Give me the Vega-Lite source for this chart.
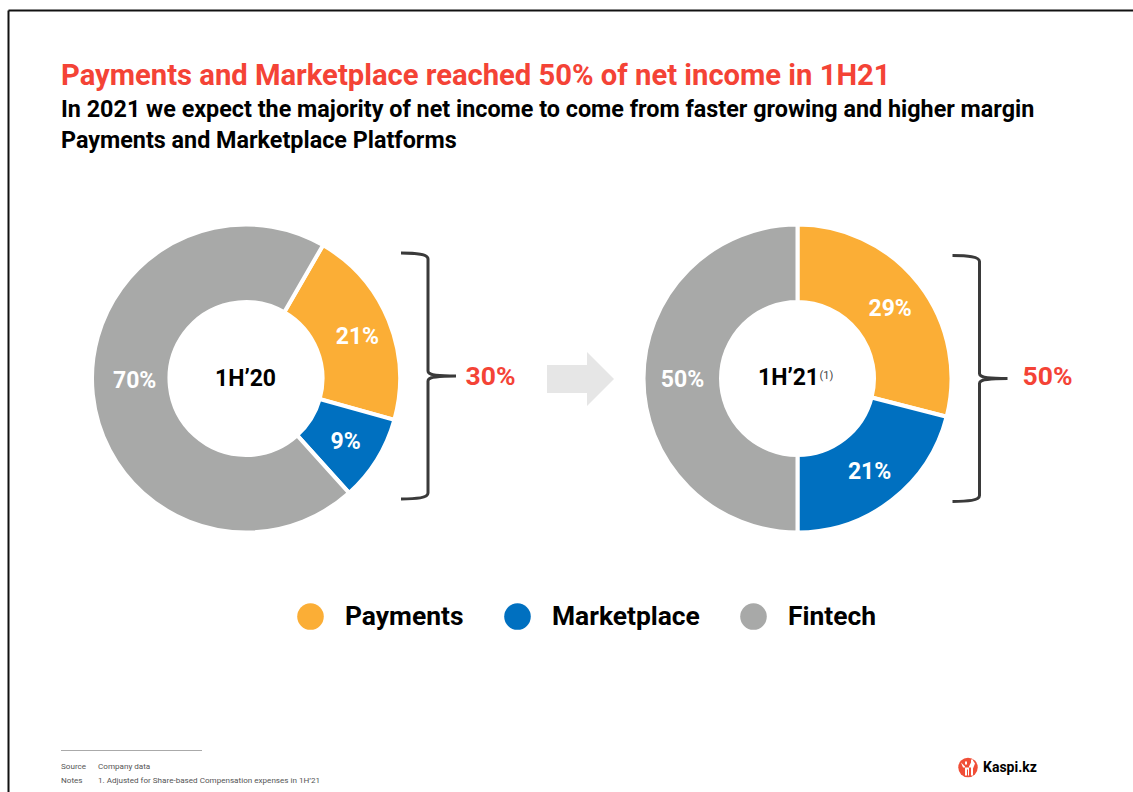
{"$schema":"https://vega.github.io/schema/vega-lite/v6.json","width":1133,"height":792,"padding":0,"autosize":{"type":"none"},"background":"white",
"config":{"view":{"stroke":null},"font":"Roboto","text":{"font":"Roboto"}},
"title":{"text":"Payments and Marketplace reached 50% of net income in 1H21","subtitle":["In 2021 we expect the majority of net income to come from faster growing and higher margin","Payments and Marketplace Platforms"],"orient":"top","anchor":"start","frame":"group","dx":61,"offset":-152,"font":"Roboto","fontSize":29.2,"fontWeight":700,"color":"#F44336","subtitleFont":"Roboto","subtitleFontSize":23.35,"subtitleFontWeight":700,"subtitleColor":"#000000","subtitleLineHeight":31,"subtitlePadding":7},
"datasets":{
"shares":[{"period":"1H'20","segment":"Payments","share":21,"rank":1,"label":"21%"},{"period":"1H'20","segment":"Marketplace","share":9,"rank":2,"label":"9%"},{"period":"1H'20","segment":"Fintech","share":70,"rank":3,"label":"70%"},{"period":"1H'21","segment":"Payments","share":29,"rank":1,"label":"29%"},{"period":"1H'21","segment":"Marketplace","share":21,"rank":2,"label":"21%"},{"period":"1H'21","segment":"Fintech","share":50,"rank":3,"label":"50%"}],
"periods":[{"period":"1H'20","name":"1H’20","total":"30%"},{"period":"1H'21","name":"1H’21","total":"50%"}],
"notes":[{"kind":"Source","body":"Company data"},{"kind":"Notes","body":"1.  Adjusted for Share-based Compensation expenses in 1H’21"}]
},
"layer":[
{"data":{"values":[{"item":"frame"}]},"mark":{"type":"point","shape":"M0,0 L1300,0 M0,0 L0,900","filled":false,"size":4,"stroke":"#111111","strokeWidth":2,"opacity":1},"encoding":{"x":{"field":"item","type":"nominal","axis":null,"scale":{"domain":["frame"],"range":[8.5,8.5],"padding":0}},"y":{"field":"item","type":"nominal","axis":null,"scale":{"domain":["frame"],"range":[10.5,10.5],"padding":0}}}},
{"data":{"name":"shares"},"transform":[{"filter":"datum.period==\"1H'20\""}],"mark":{"type":"arc","outerRadius":154,"innerRadius":76.5,"stroke":"white","strokeWidth":4},"encoding":{"x":{"field":"period","type":"nominal","axis":null,"scale":{"domain":["1H'20","1H'21"],"range":[246,797.5],"padding":0}},"y":{"field":"period","type":"nominal","axis":null,"scale":{"domain":["1H'20","1H'21"],"range":[378.5,378.5],"padding":0}},"theta":{"field":"share","type":"quantitative","stack":true,"scale":{"domain":[0,100],"range":[0.5236,6.8068]}},"order":{"field":"rank"},"color":{"field":"segment","type":"nominal","scale":{"domain":["Payments","Marketplace","Fintech"],"range":["#FBAE36","#0070C0","#A8A9A8"]},"legend":{"title":null,"orient":"none","legendX":297,"legendY":603,"direction":"horizontal","columns":3,"columnPadding":40,"symbolType":"circle","symbolSize":707,"symbolStrokeWidth":0,"symbolOpacity":1,"labelOffset":21,"labelFont":"Roboto","labelFontSize":26.4,"labelFontWeight":700,"labelColor":"#000000","labelLimit":300}}}},
{"data":{"name":"shares"},"transform":[{"filter":"datum.period==\"1H'21\""}],"mark":{"type":"arc","outerRadius":154,"innerRadius":76.5,"stroke":"white","strokeWidth":4},"encoding":{"x":{"field":"period","type":"nominal","axis":null,"scale":{"domain":["1H'20","1H'21"],"range":[246,797.5],"padding":0}},"y":{"field":"period","type":"nominal","axis":null,"scale":{"domain":["1H'20","1H'21"],"range":[378.5,378.5],"padding":0}},"theta":{"field":"share","type":"quantitative","stack":true,"scale":{"domain":[0,100],"range":[0,6.2832]}},"order":{"field":"rank"},"color":{"field":"segment","type":"nominal"}}},
{"data":{"name":"shares"},"transform":[{"filter":"datum.period==\"1H'20\""}],"mark":{"type":"text","radius":116,"font":"Roboto","fontSize":23,"fontWeight":700,"color":"white","dy":{"expr":"datum.segment==='Fintech'?-10:2"},"dx":{"expr":"datum.segment==='Fintech'?4:datum.segment==='Payments'?4:1"}},"encoding":{"x":{"field":"period","type":"nominal","axis":null,"scale":{"domain":["1H'20","1H'21"],"range":[246,797.5],"padding":0}},"y":{"field":"period","type":"nominal","axis":null,"scale":{"domain":["1H'20","1H'21"],"range":[378.5,378.5],"padding":0}},"theta":{"field":"share","type":"quantitative","stack":true,"scale":{"domain":[0,100],"range":[0.5236,6.8068]}},"order":{"field":"rank"},"detail":{"field":"segment"},"text":{"field":"label"}}},
{"data":{"name":"shares"},"transform":[{"filter":"datum.period==\"1H'21\""}],"mark":{"type":"text","radius":116,"font":"Roboto","fontSize":23,"fontWeight":700,"color":"white","dy":2,"dx":1},"encoding":{"x":{"field":"period","type":"nominal","axis":null,"scale":{"domain":["1H'20","1H'21"],"range":[246,797.5],"padding":0}},"y":{"field":"period","type":"nominal","axis":null,"scale":{"domain":["1H'20","1H'21"],"range":[378.5,378.5],"padding":0}},"theta":{"field":"share","type":"quantitative","stack":true,"scale":{"domain":[0,100],"range":[0,6.2832]}},"order":{"field":"rank"},"detail":{"field":"segment"},"text":{"field":"label"}}},
{"data":{"name":"periods"},"mark":{"type":"text","font":"Roboto","fontSize":23,"fontWeight":700,"color":"#000000"},"encoding":{"x":{"field":"period","type":"nominal","axis":null,"scale":{"domain":["1H'20","1H'21"],"range":[245.5,788.5],"padding":0}},"y":{"field":"period","type":"nominal","axis":null,"scale":{"domain":["1H'20","1H'21"],"range":[379,378],"padding":0}},"text":{"field":"name"}}},
{"data":{"values":[{"item":"note","mark":"(1)"}]},"mark":{"type":"text","font":"Roboto","fontSize":11,"color":"#444444"},"encoding":{"x":{"field":"item","type":"nominal","axis":null,"scale":{"domain":["note"],"range":[826.5,826.5],"padding":0}},"y":{"field":"item","type":"nominal","axis":null,"scale":{"domain":["note"],"range":[376,376],"padding":0}},"text":{"field":"mark"}}},
{"data":{"name":"periods"},"mark":{"type":"text","font":"Roboto","fontSize":26.5,"fontWeight":700,"color":"#F44336"},"encoding":{"x":{"field":"period","type":"nominal","axis":null,"scale":{"domain":["1H'20","1H'21"],"range":[490.5,1047.5],"padding":0}},"y":{"field":"period","type":"nominal","axis":null,"scale":{"domain":["1H'20","1H'21"],"range":[377,377],"padding":0}},"text":{"field":"total"}}},
{"data":{"name":"periods"},"mark":{"type":"point","shape":"M-27,-123 C-12,-123 0,-122 0,-117 L0,-5 C0,-1 8,0 28,0 C8,0 0,1 0,5 L0,117 C0,122 -12,123 -27,123","filled":false,"size":4,"stroke":"#3A3A3A","strokeWidth":3,"opacity":1},"encoding":{"x":{"field":"period","type":"nominal","axis":null,"scale":{"domain":["1H'20","1H'21"],"range":[428,979.5],"padding":0}},"y":{"field":"period","type":"nominal","axis":null,"scale":{"domain":["1H'20","1H'21"],"range":[376,378.5],"padding":0}}}},
{"data":{"values":[{"item":"arrow"}]},"mark":{"type":"point","shape":"M0,-14 L40,-14 L40,-27 L67,0 L40,27 L40,14 L0,14 Z","filled":true,"size":4,"fill":"#E6E6E6","opacity":1},"encoding":{"x":{"field":"item","type":"nominal","axis":null,"scale":{"domain":["arrow"],"range":[547,547],"padding":0}},"y":{"field":"item","type":"nominal","axis":null,"scale":{"domain":["arrow"],"range":[379,379],"padding":0}}}},
{"data":{"values":[{"item":"footer rule"}]},"mark":{"type":"point","shape":"M0,0 L141,0","filled":false,"size":4,"stroke":"#AAAAAA","strokeWidth":1,"opacity":1},"encoding":{"x":{"field":"item","type":"nominal","axis":null,"scale":{"domain":["footer rule"],"range":[61,61],"padding":0}},"y":{"field":"item","type":"nominal","axis":null,"scale":{"domain":["footer rule"],"range":[750.5,750.5],"padding":0}}}},
{"data":{"name":"notes"},"mark":{"type":"text","align":"left","font":"Roboto","fontSize":8.1,"color":"#555555"},"encoding":{"x":{"field":"kind","type":"nominal","axis":null,"scale":{"domain":["Source","Notes"],"range":[61,61],"padding":0}},"y":{"field":"kind","type":"nominal","axis":null,"scale":{"domain":["Source","Notes"],"range":[767,781],"padding":0}},"text":{"field":"kind"}}},
{"data":{"name":"notes"},"mark":{"type":"text","align":"left","font":"Roboto","fontSize":8.1,"color":"#555555"},"encoding":{"x":{"field":"kind","type":"nominal","axis":null,"scale":{"domain":["Source","Notes"],"range":[98,98],"padding":0}},"y":{"field":"kind","type":"nominal","axis":null,"scale":{"domain":["Source","Notes"],"range":[767,781],"padding":0}},"text":{"field":"body"}}},
{"data":{"values":[{"item":"logo"}]},"mark":{"type":"point","shape":"circle","filled":true,"size":380,"fill":"#F04E37","opacity":1},"encoding":{"x":{"field":"item","type":"nominal","axis":null,"scale":{"domain":["logo"],"range":[968,968],"padding":0}},"y":{"field":"item","type":"nominal","axis":null,"scale":{"domain":["logo"],"range":[767.5,767.5],"padding":0}}}},
{"data":{"values":[{"item":"logo"}]},"mark":{"type":"point","shape":"M-7,-5 L-3,-1 L-3,8 L-1,8 L-1,2 L0,2 L0,8 L1,8 L1,-1 L3,-5 L5,-7 L7,-4 L5,1 L5,8 L3,8 L3,0 L-5,0 Z M-3,-6 L-1,-6 L-1,-3 L-3,-3 Z M3,-8 L5,-8 L5,-5 L3,-5 Z","filled":true,"size":4,"fill":"white","opacity":1},"encoding":{"x":{"field":"item","type":"nominal","axis":null,"scale":{"domain":["logo"],"range":[968,968],"padding":0}},"y":{"field":"item","type":"nominal","axis":null,"scale":{"domain":["logo"],"range":[767.5,767.5],"padding":0}}}},
{"data":{"values":[{"item":"logo","brand":"Kaspi.kz"}]},"mark":{"type":"text","align":"left","font":"Roboto","fontSize":14,"fontWeight":700,"color":"#000000"},"encoding":{"x":{"field":"item","type":"nominal","axis":null,"scale":{"domain":["logo"],"range":[983,983],"padding":0}},"y":{"field":"item","type":"nominal","axis":null,"scale":{"domain":["logo"],"range":[767.5,767.5],"padding":0}},"text":{"field":"brand"}}}
],
"resolve":{"scale":{"x":"independent","y":"independent","theta":"independent"}}}
